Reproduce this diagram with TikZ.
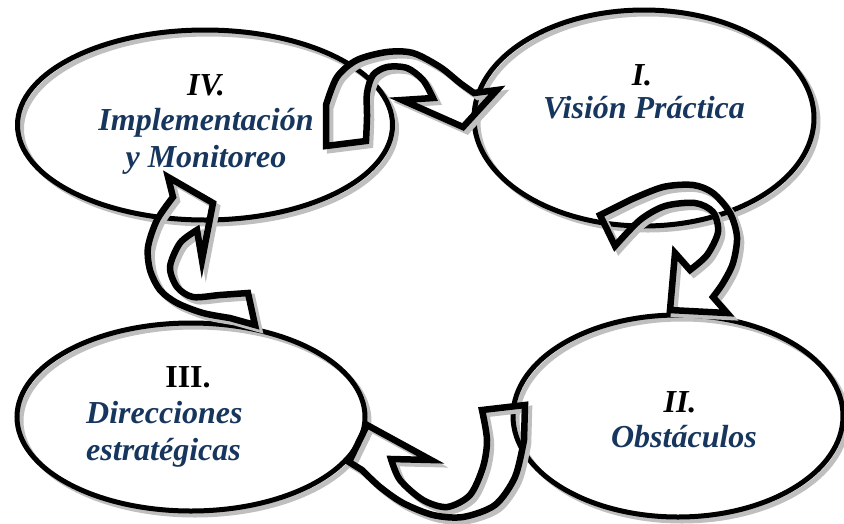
\documentclass[tikz,border=0pt]{standalone}
\usepackage{fontspec}
\setmainfont{Liberation Serif}
\usetikzlibrary{shapes.geometric}

\definecolor{stageblue}{RGB}{23,54,93}
\definecolor{shadowgray}{RGB}{191,191,191}

\begin{document}
\begin{tikzpicture}[x=1pt, y=-1pt,
    stage/.style={ellipse, draw, line width=5pt, inner sep=0pt},
    turn/.style={draw, line width=6.5pt, line join=miter, miter limit=6},
    numtext/.style={inner sep=0pt, anchor=base, font=\fontsize{32}{36}\selectfont\bfseries\itshape},
    stagetext/.style={numtext, text=stageblue}]
\useasboundingbox (0,0) rectangle (844,523);

% Stages (shadow first)
\foreach \n/\x/\y/\w/\h in {eIV/205/125/375/190, eI/644/118/340/216, eIII/191/417/348/188, eII/678/416/330/202} {
  \draw[line width=5pt, shadowgray] (\x+4,\y+4) ellipse [x radius=\w/2, y radius=\h/2];
  \node[stage, minimum width=\w pt, minimum height=\h pt] (\n) at (\x,\y) {};
}

% Arrows (shadow pass, then outline pass)
\foreach \d/\c in {4/shadowgray, 0/black} {
\begin{scope}[shift={(\d,\d)}, turn/.append style={draw=\c}]
% IV -> I
\draw[turn] (326,146) -- plot[smooth] coordinates {(326,105) (337,77) (357,60) (387,52) (413,53) (440,67) (460,83) (474,93)}
    -- (497,90) -- (463,127) -- (402,100)
    -- plot[smooth] coordinates {(433,98) (423,80) (407,68) (387,67) (373,75) (367,93) (367,117) (366,141)} -- cycle;
% I -> II
\draw[turn] (600,215) -- plot[smooth] coordinates {(630,200) (663,187) (693,185) (713,193) (730,213) (737,237) (733,263) (723,283) (713,297)}
    -- (727,313) -- (670,310) -- (675,253)
    -- plot[smooth] coordinates {(690,270) (707,255) (718,232) (713,212) (695,203) (665,206) (640,220) (615,246)} -- cycle;
% II -> III
\draw[turn] (525,405) -- plot[smooth] coordinates {(524,440) (515,477) (495,505) (463,517) (433,515) (403,503) (380,487) (362,470)}
    -- (349,462) -- (367,425) -- (431,460)
    -- plot[smooth] coordinates {(391,459) (400,480) (423,500) (447,507) (470,495) (483,467) (487,440) (482,410)} -- cycle;
% III -> IV
\draw[turn] (255,325) -- plot[smooth] coordinates {(230,318) (203,313) (177,303) (160,290) (150,270) (148,247) (157,220) (173,197)}
    -- (168,177) -- (213,203) -- (202,260)
    -- plot[smooth] coordinates {(197,230) (180,243) (170,267) (177,287) (193,297) (220,295) (248,293)} -- cycle;
\end{scope}
}

% Labels
\node[numtext] (nIV) at (206,95) {IV.};
\node[stagetext] (tIVa) at (206,130) {Implementación};
\node[stagetext] (tIVb) at (206,167) {y Monitoreo};
\node[numtext] (nI) at (642,85) {I.};
\node[stagetext] (tI) at (644,118) {Visión Práctica};
\node[numtext, font=\fontsize{32}{36}\selectfont\bfseries] (nIII) at (188,387) {III.};
\node[stagetext, anchor=base west] (tIIIa) at (86,423) {Direcciones};
\node[stagetext, anchor=base west] (tIIIb) at (86,460) {estratégicas};
\node[numtext] (nII) at (680,412) {II.};
\node[stagetext] (tII) at (684,447) {Obstáculos};
\end{tikzpicture}
\end{document}
